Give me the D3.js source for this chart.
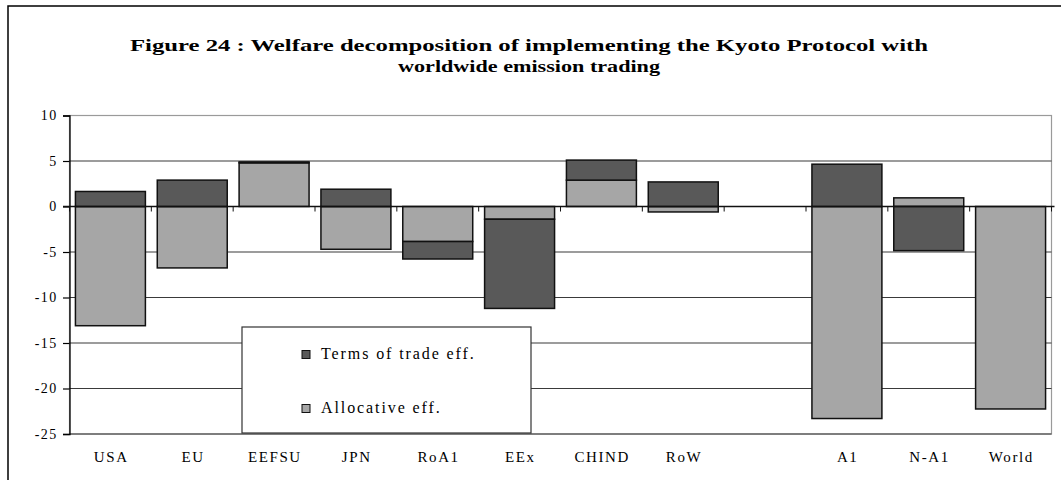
<!DOCTYPE html>
<html>
<head>
<meta charset="utf-8">
<script src="https://cdnjs.cloudflare.com/ajax/libs/d3/7.8.5/d3.min.js"></script>
<style>
	body { margin: 0; background: #fff; }
	text { font-family: "Liberation Serif", "Times New Roman", serif; fill: #000; }
</style>
</head>
<body>
<svg id="chart" width="1061" height="480"></svg>
<script>
// regions, the empty one is the gap between RoW and A1
var categories = ["USA", "EU", "EEFSU", "JPN", "RoA1", "EEx", "CHIND", "RoW", " ", "A1", "N-A1", "World"];
var allocative = [-13.1, -6.75, 4.8, -4.7, -3.85, -1.4, 2.9, -0.6, 0, -23.3, 0.95, -22.25];
var termsOfTrade = [1.65, 2.9, 0.1, 1.9, -1.92, -9.8, 2.2, 2.7, 0, 4.65, -4.85, 0];
var yTicks = [10, 5, 0, -5, -10, -15, -20, -25];
var seriesNames = ["Terms of trade eff.", "Allocative eff."];
var titleLines = ["Figure 24 : Welfare decomposition of implementing the Kyoto Protocol with",
	"worldwide emission trading"];

var svg = d3.select("#chart");
var dark = "#595959", light = "#a6a6a6";
var serif = '"Liberation Serif", "Times New Roman", serif';
var plotLeft = 69.5, plotRight = 1051.5, plotTop = 115.5, plotBottom = 434;

var x = d3.scaleBand().domain(categories).range([plotLeft, plotRight]).paddingInner(0.145).paddingOuter(0.0725);
var y = d3.scaleLinear().domain([-25, 10]).range([plotBottom, plotTop]);

// outer frame
svg.append("rect")
		.attr("x", 8).attr("y", 6)
		.attr("width", 1070).attr("height", 490)
		.attr("fill", "none")
		.attr("stroke", "#000")
		.attr("stroke-width", 1.5);

// title
svg.append("g").selectAll("text")
		.data(titleLines)
		.enter()
		.append("text")
		.attr("x", 529)
		.attr("y", function(d, i){ return 51 + i * 21; })
		.attr("text-anchor", "middle")
		.attr("textLength", function(d, i){ return i == 0 ? 798 : 262; })
		.attr("lengthAdjust", "spacingAndGlyphs")
		.style("font-size", "16.5px")
		.style("font-weight", "bold")
		.text(function(d){ return d; });

// plot border (grey)
svg.append("rect")
		.attr("x", plotLeft).attr("y", plotTop)
		.attr("width", plotRight - plotLeft).attr("height", plotBottom - plotTop)
		.attr("fill", "none")
		.attr("stroke", "#9a9a9a")
		.attr("stroke-width", 1.2);

// gridlines
svg.append("g").selectAll("line")
		.data(yTicks.filter(function(d){ return d < 10 && d != 0; }))
		.enter()
		.append("line")
		.attr("x1", plotLeft).attr("x2", plotRight)
		.attr("y1", function(d){ return y(d); })
		.attr("y2", function(d){ return y(d); })
		.attr("stroke", "#3a3a3a")
		.attr("stroke-width", 1.2);

// stacked bars
var rows = categories.map(function(c, i){
	return { cat: c, alloc: allocative[i], tot: termsOfTrade[i] };
});
var stack = d3.stack().keys(["alloc", "tot"]).offset(d3.stackOffsetDiverging);
var layers = stack(rows);
var fills = { alloc: light, tot: dark };

svg.append("g").selectAll("g")
		.data(layers)
		.enter()
		.append("g")
		.attr("fill", function(d){ return fills[d.key]; })
		.selectAll("rect")
		.data(function(d){ return d.filter(function(p){ return p[1] != p[0]; }); })
		.enter()
		.append("rect")
		.attr("x", function(d){ return x(d.data.cat); })
		.attr("width", x.bandwidth())
		.attr("y", function(d){ return y(Math.max(d[0], d[1])); })
		.attr("height", function(d){ return Math.abs(y(d[0]) - y(d[1])); })
		.attr("stroke", "#111")
		.attr("stroke-width", 1.5);

// y axis (plain hyphen for negatives)
var yAxis = d3.axisLeft(y).tickValues(yTicks).tickSize(6.5).tickPadding(8)
		.tickFormat(function(d){ return String(d); });
var ya = svg.append("g").attr("transform", "translate(" + plotLeft + ",0)").call(yAxis);
ya.attr("font-family", serif).attr("font-size", null);
ya.select(".domain").attr("stroke", "#000").attr("stroke-width", 1.3);
ya.selectAll(".tick line").attr("stroke", "#000").attr("stroke-width", 1.2);
ya.selectAll(".tick text")
		.style("font-family", serif)
		.style("font-size", "14px")
		.style("letter-spacing", "1.5px")
		.attr("dx", "0.2em");

// category axis at zero
svg.append("line")
		.attr("x1", plotLeft - 6.5).attr("x2", plotRight + 3)
		.attr("y1", y(0)).attr("y2", y(0))
		.attr("stroke", "#111")
		.attr("stroke-width", 1.5);
var bounds = categories.map(function(c){ return x(c) - x.step() * x.paddingInner() / 2; }).concat([plotRight]);
svg.append("g").selectAll("line")
		.data(bounds)
		.enter()
		.append("line")
		.attr("x1", function(d){ return d; }).attr("x2", function(d){ return d; })
		.attr("y1", y(0)).attr("y2", y(0) + 5)
		.attr("stroke", "#111")
		.attr("stroke-width", 1);

// category labels
svg.append("g").selectAll("text")
		.data(categories)
		.enter()
		.append("text")
		.attr("x", function(d){ return x(d) + x.bandwidth() / 2 + 0.8; })
		.attr("y", 462)
		.attr("text-anchor", "middle")
		.style("font-size", "15px")
		.style("letter-spacing", "1.6px")
		.text(function(d){ return d; });

// legend
var legend = svg.append("g");
legend.append("rect")
		.attr("x", 242).attr("y", 327)
		.attr("width", 289).attr("height", 106)
		.attr("fill", "#fff")
		.attr("stroke", "#333")
		.attr("stroke-width", 1.2);
var item = legend.selectAll(".item")
		.data(seriesNames)
		.enter()
		.append("g")
		.attr("class", "item")
		.attr("transform", function(d, i){ return "translate(302," + (359 + i * 54) + ")"; });
item.append("rect")
		.attr("x", 0).attr("y", -8.5)
		.attr("width", 8).attr("height", 8)
		.attr("fill", function(d, i){ return i == 0 ? dark : light; })
		.attr("stroke", "#111")
		.attr("stroke-width", 1);
item.append("text")
		.attr("x", 19)
		.attr("y", 0)
		.style("font-size", "16px")
		.style("letter-spacing", "1.9px")
		.text(function(d){ return d; });
</script>
</body>
</html>
